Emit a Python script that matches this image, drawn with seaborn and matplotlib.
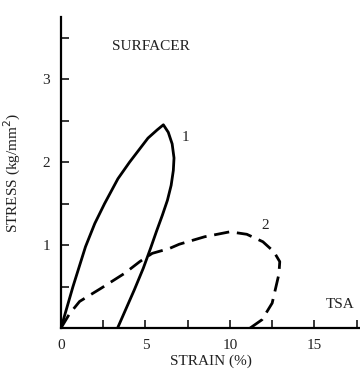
import matplotlib
matplotlib.use("Agg")
import matplotlib.pyplot as plt
import seaborn as sns
import pandas as pd

# Curve 1 (solid) : loading then unloading
c1_strain = [0, 0.71, 1.45, 2.0, 2.58, 3.37, 4.06, 5.15, 5.7, 6.06,
             6.35, 6.58, 6.69, 6.65, 6.52, 6.3, 6.0, 5.66, 5.3, 4.87, 4.34, 3.35]
c1_stress = [0, 0.5, 0.98, 1.26, 1.5, 1.8, 2.0, 2.29, 2.39, 2.45,
             2.36, 2.22, 2.05, 1.9, 1.72, 1.54, 1.36, 1.17, 0.96, 0.72, 0.46, 0.0]
# Curve 2 (dashed)
c2_strain = [0, 0.5, 1.1, 2.38, 3.77, 4.66, 5.4, 6.43, 7.0, 8.5, 10.0,
             11.0, 11.95, 12.6, 12.95, 12.9, 12.5, 11.9, 11.2]
c2_stress = [0, 0.17, 0.32, 0.48, 0.66, 0.8, 0.9, 0.96, 1.01, 1.1, 1.16,
             1.13, 1.04, 0.92, 0.8, 0.65, 0.3, 0.1, 0.0]

x_ticks = [0, 2.5, 5, 7.5, 10, 12.5, 15, 17.5]
x_labels = ["0", "", "5", "", "10", "", "15", ""]
y_ticks = [0.5, 1, 1.5, 2, 2.5, 3, 3.5]
y_labels = ["", "1", "", "2", "", "3", ""]

sns.set_style("white")
plt.rcParams['font.family'] = ['Liberation Serif', 'DejaVu Serif']

fig = plt.figure(figsize=(3.6, 3.82), dpi=100)
ax = fig.add_axes([61/360, 54/382, 299/360, 311/382])

df1 = pd.DataFrame({"strain": c1_strain, "stress": c1_stress})
df2 = pd.DataFrame({"strain": c2_strain, "stress": c2_stress})
sns.lineplot(data=df1, x="strain", y="stress", sort=False, estimator=None,
             color="black", lw=2.0, ax=ax)
sns.lineplot(data=df2, x="strain", y="stress", sort=False, estimator=None,
             color="black", lw=2.0, ax=ax)
ax.lines[-1].set_dashes((5.5, 2.8))

ax.set_xlim(0, 17.7)
ax.set_ylim(0, 3.75)
ax.set_xticks(x_ticks)
ax.set_xticklabels(x_labels)
ax.set_yticks(y_ticks)
ax.set_yticklabels(y_labels)
ax.tick_params(bottom=True, left=True, direction="in", length=6, width=1.1,
               labelsize=11, color="black", labelcolor="#222222", pad=8)
for s in ["top", "right"]:
    ax.spines[s].set_visible(False)
for s in ["left", "bottom"]:
    ax.spines[s].set_linewidth(1.6)
    ax.spines[s].set_color("black")

ax.set_xlabel("STRAIN (%)", fontsize=11, color="#222222", labelpad=2)
ax.set_ylabel("STRESS (kg/mm$^2$)", fontsize=11, color="#222222", labelpad=14)

ax.text(3.0, 3.4, "SURFACER", fontsize=11, color="#222222", ha="left", va="center")
ax.text(16.5, 0.28, "TSA", fontsize=11, color="#222222", ha="center", va="center")
ax.text(7.35, 2.3, "1", fontsize=11, color="#222222", ha="center", va="center")
ax.text(12.1, 1.24, "2", fontsize=11, color="#222222", ha="center", va="center")

fig.savefig("out.png", dpi=100)
